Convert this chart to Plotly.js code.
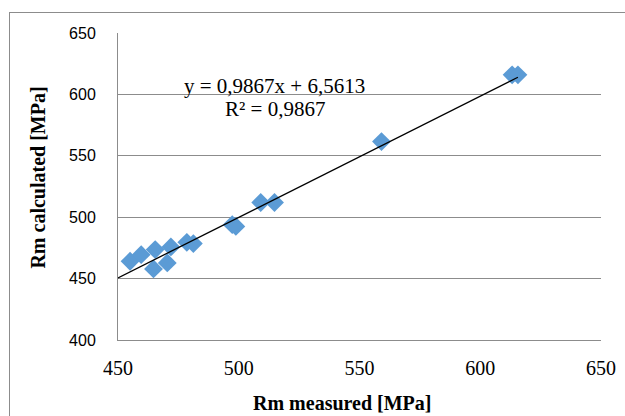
<!DOCTYPE html>
<html>
<head>
<meta charset="utf-8">
<script src="https://cdn.plot.ly/plotly-3.0.1.min.js"></script>
<style>
  html, body { margin: 0; padding: 0; background: #fff; }
  #wrap { position: relative; width: 625px; height: 416px; overflow: hidden; }
  #frame { position: absolute; left: 9px; top: 12px; width: 640px; height: 430px; border: 1px solid #8c8c8c; box-sizing: border-box; pointer-events: none; }
  #chart { position: absolute; left: 0; top: 0; width: 625px; height: 416px; }
</style>
</head>
<body>
<div id="wrap">
  <div id="chart"></div>
  <div id="frame"></div>
</div>
<script>
// Measured vs calculated Rm [MPa]
const rmMeasured   = [455.0, 459.6, 465.4, 464.7, 471.9, 470.4, 478.5, 481.2, 497.3, 498.8, 509.1, 514.8, 559.1, 613.2, 615.6];
const rmCalculated = [464.1, 469.5, 473.6, 457.9, 475.8, 462.8, 479.5, 478.5, 493.9, 492.5, 512.0, 512.0, 561.6, 615.9, 615.9];

// Linear trendline parameters (from the chart)
const slope = 0.9867;
const intercept = 6.5613;
const trendX = [450, 615.6];
const trendY = trendX.map(x => slope * x + intercept);

const equationText = "y = 0,9867x + 6,5613";
const r2Text = "R² = 0,9867";
const xTitle = "Rm measured [MPa]";
const yTitle = "Rm calculated [MPa]";

const xTicks = [450, 500, 550, 600, 650];
const yTicks = [400, 450, 500, 550, 600, 650];

const serif = 'Liberation Serif, Times New Roman, serif';

const traces = [
  {
    x: rmMeasured, y: rmCalculated,
    type: 'scatter', mode: 'markers',
    marker: { symbol: 'diamond', size: 14.5, color: '#5b9bd5', line: { width: 0 } },
    hoverinfo: 'x+y'
  },
  {
    x: trendX, y: trendY,
    type: 'scatter', mode: 'lines',
    line: { color: '#000000', width: 1.3 },
    hoverinfo: 'skip'
  }
];

const layout = {
  width: 625, height: 416,
  margin: { l: 117.5, r: 23.5, t: 33.3, b: 76, pad: 0 },
  paper_bgcolor: '#ffffff', plot_bgcolor: '#ffffff',
  showlegend: false,
  xaxis: {
    range: [450, 650], tickvals: xTicks, ticktext: xTicks.map(String),
    showgrid: false, zeroline: false,
    showline: true, linecolor: '#8c8c8c', linewidth: 1,
    ticks: '', ticklabelstandoff: 10,
    tickfont: { family: serif, size: 20, color: '#000' }
  },
  yaxis: {
    range: [400, 650], tickvals: yTicks, ticktext: yTicks.map(String),
    showgrid: true, gridcolor: '#8c8c8c', gridwidth: 1,
    zeroline: false,
    showline: true, linecolor: '#8c8c8c', linewidth: 1,
    ticks: '', ticklabelstandoff: 18,
    tickfont: { family: 'Liberation Sans, Arial, sans-serif', size: 16, color: '#000' }
  },
  annotations: [
    { x: 514.7, y: 607, xref: 'x', yref: 'y', text: equationText, showarrow: false,
      font: { family: serif, size: 21, color: '#000' } },
    { x: 515.2, y: 588.3, xref: 'x', yref: 'y', text: r2Text, showarrow: false,
      font: { family: serif, size: 21, color: '#000' } },
    { x: 0.4638, y: -0.2054, xref: 'paper', yref: 'paper', text: '<b>' + xTitle + '</b>', showarrow: false,
      xanchor: 'center', yanchor: 'middle',
      font: { family: serif, size: 20, color: '#000' } },
    { x: -0.1663, y: 0.528, xref: 'paper', yref: 'paper', text: '<b>' + yTitle + '</b>', showarrow: false,
      textangle: -90, xanchor: 'center', yanchor: 'middle',
      font: { family: serif, size: 20, color: '#000' } }
  ]
};

Plotly.newPlot('chart', traces, layout, { displayModeBar: false, staticPlot: true });
</script>
</body>
</html>
